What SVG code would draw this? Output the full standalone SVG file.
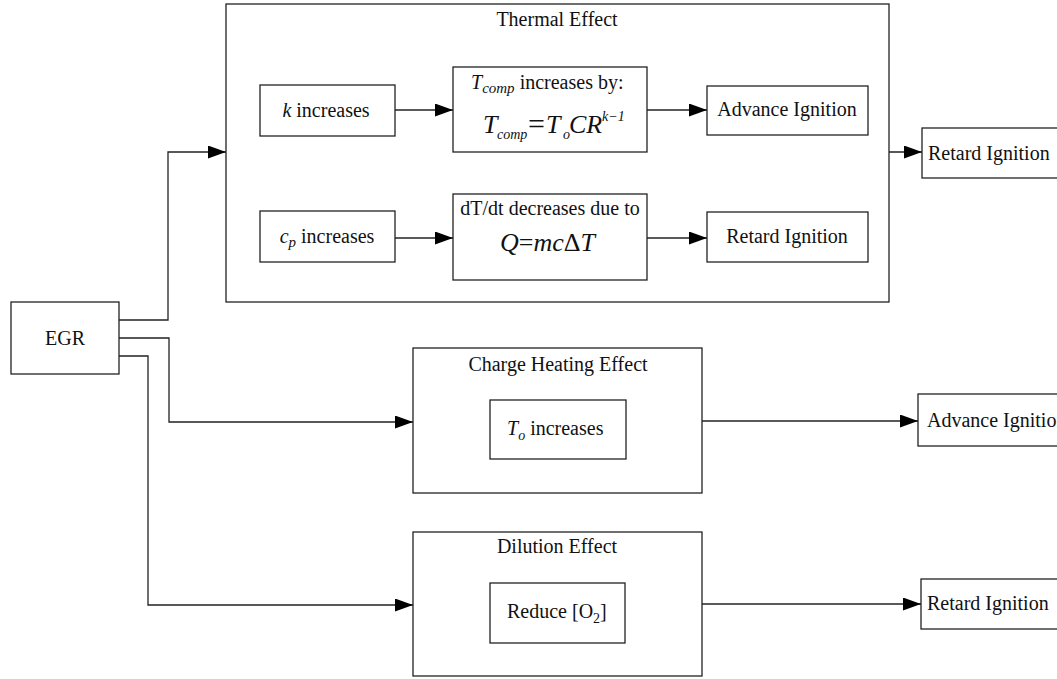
<svg xmlns="http://www.w3.org/2000/svg" width="1057" height="679" viewBox="0 0 1057 679" font-family="'Liberation Serif', 'DejaVu Serif', serif">
<defs>
<marker id="ah" markerWidth="18" markerHeight="13" refX="18" refY="6.5" orient="auto" markerUnits="userSpaceOnUse">
<path d="M0,0 L18,6.5 L0,13 z" fill="#000"/>
</marker>
<style>
rect{fill:#fff;stroke:#222;stroke-width:1.3}
text{font-family:'Liberation Serif','DejaVu Serif',serif;font-size:20px;fill:#111}
.c{text-anchor:middle}
.i{font-style:italic}
.s14{font-size:14px}
.s15{font-size:15px}
.s26{font-size:26px}
.s30{font-size:30px}
.conn path{fill:none;stroke:#222;stroke-width:1.3;marker-end:url(#ah)}
</style>
</defs>
<rect width="1057" height="679" style="fill:#fff;stroke:none"/>

<g id="thermal">
<rect x="226" y="4" width="663" height="298"/>
<text class="c" x="557" y="26">Thermal Effect</text>
</g>
<g id="k-increases">
<rect x="260" y="85" width="135" height="51"/>
<text class="c" x="326" y="117"><tspan class="i">k</tspan> increases</text>
</g>
<g id="tcomp">
<rect x="453" y="67" width="194" height="85"/>
<text x="471" y="89"><tspan class="i">T</tspan><tspan class="i s15" dy="4">comp</tspan><tspan dy="-4"> increases by:</tspan></text>
<text class="i s26" x="483" y="133">T</text>
<text class="i s14" x="497" y="139">comp</text>
<text class="s30" x="528" y="134">=</text>
<text class="i s26" x="546" y="133">T</text>
<text class="i s14" x="563" y="139">o</text>
<text class="i s26" x="569" y="133">CR</text>
<text class="i s14" x="602" y="121">k−1</text>
</g>
<g id="advance-1">
<rect x="707" y="86" width="161" height="49"/>
<text class="c" x="787" y="116">Advance Ignition</text>
</g>
<g id="cp-increases">
<rect x="260" y="211" width="135" height="51"/>
<text class="c" x="327" y="243"><tspan class="i">c</tspan><tspan class="i s15" dy="4">p</tspan><tspan dy="-4"> increases</tspan></text>
</g>
<g id="dtdt">
<rect x="453" y="194" width="194" height="86"/>
<text class="c" x="550" y="215">dT/dt decreases due to</text>
<text class="s26" x="500" y="251"><tspan class="i">Q</tspan><tspan>=</tspan><tspan class="i">mc</tspan><tspan>Δ</tspan><tspan class="i">T</tspan></text>
</g>
<g id="retard-1">
<rect x="707" y="212" width="161" height="50"/>
<text class="c" x="787" y="243">Retard Ignition</text>
</g>
<g id="retard-top">
<rect x="922" y="128" width="140" height="50"/>
<text x="928" y="160">Retard Ignition</text>
</g>
<g id="egr">
<rect x="11" y="302" width="108" height="72"/>
<text class="c" x="65" y="345">EGR</text>
</g>
<g id="charge">
<rect x="413" y="348" width="289" height="145"/>
<text class="c" x="558" y="371">Charge Heating Effect</text>
</g>
<g id="to-increases">
<rect x="490" y="400" width="136" height="59"/>
<text x="507" y="435"><tspan class="i">T</tspan><tspan class="i s14" dy="5">o</tspan><tspan dy="-5"> increases</tspan></text>
</g>
<g id="advance-2">
<rect x="918" y="394" width="144" height="52"/>
<text x="927" y="427">Advance Ignition</text>
</g>
<g id="dilution">
<rect x="413" y="532" width="289" height="144"/>
<text class="c" x="557" y="553">Dilution Effect</text>
</g>
<g id="reduce-o2">
<rect x="490" y="583" width="135" height="60"/>
<text x="507" y="618">Reduce [O<tspan class="s14" dy="5">2</tspan><tspan dy="-5">]</tspan></text>
</g>
<g id="retard-2">
<rect x="921" y="579" width="141" height="50"/>
<text x="927" y="610">Retard Ignition</text>
</g>

<g id="connectors" class="conn">
<path d="M119,320 H168 V152 H226"/>
<path d="M119,338 H169 V422 H413"/>
<path d="M119,356 H148 V605 H413"/>
<path d="M395,110 H453"/>
<path d="M647,110 H707"/>
<path d="M395,238 H453"/>
<path d="M647,238 H707"/>
<path d="M889,152 H922"/>
<path d="M702,421 H918"/>
<path d="M702,604 H921"/>
</g>
</svg>
